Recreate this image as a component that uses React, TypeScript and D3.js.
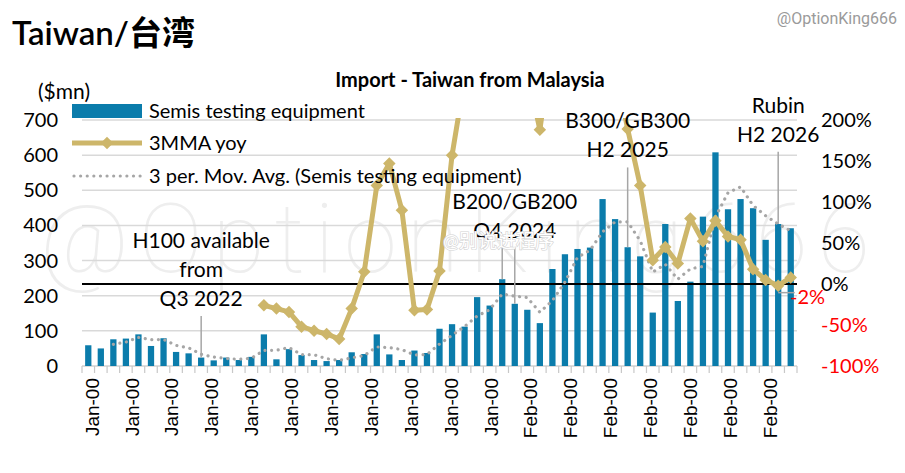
import React from "react";
import * as d3 from "d3";

// Monthly imports of semiconductor testing equipment, Taiwan from Malaysia ($mn)
const semisTesting = [
  59, 50, 76, 78, 90, 57, 79, 40, 36, 24, 16, 24, 17, 26, 90, 19, 48, 31, 17, 14,
  17, 39, 34, 90, 33, 17, 44, 37, 106, 119, 112, 196, 172, 247, 177, 160, 122, 276, 318, 333,
  337, 475, 418, 338, 312, 152, 404, 185, 240, 425, 608, 446, 475, 449, 359, 404, 392,
];

// 3-month moving average, year on year (%); null where not yet available
const yoy3mma: (number | null)[] = [
  null, null, null, null, null, null, null, null, null, null, null, null, null, null,
  -26, -30, -34, -52, -57, -61, -67, -30, 15, 120, 147, 90, -32, -31, 16, 157,
  250, 590, 900, 790, 560, 260, 188, 296, 670, 840, 430, 340, 265, 189, 120, 29,
  45, 25, 80, 52, 77, 58, 54, 18, 5, -2, 8,
];

const xTickLabels = [
  "Jan-00", "Jan-00", "Jan-00", "Jan-00", "Jan-00", "Jan-00", "Jan-00", "Jan-00", "Jan-00",
  "Jan-00", "Jan-00", "Feb-00", "Feb-00", "Feb-00", "Feb-00", "Feb-00", "Feb-00", "Feb-00",
];
const leftTicks = [0, 100, 200, 300, 400, 500, 600, 700];
const rightTicks = [-100, -50, 0, 50, 100, 150, 200];

// Product milestones pointing at a month's bar
const milestones = [
  { lines: ["H100 available", "from", "Q3 2022"], at: [9], textAt: 9, top: 142 },
  { lines: ["B200/GB200", "Q4 2024"], at: [33, 34], textAt: 34, top: 336 },
  { lines: ["B300/GB300", "H2 2025"], at: [43], textAt: 43, top: 565 },
  { lines: ["Rubin", "H2 2026"], at: [55], textAt: 55, top: 610 },
];
const labelledPoint = { index: 55, value: -2 };

const W = 905;
const H = 473;
const P = { left: 82, right: 797, top: 120, bottom: 366 };
const BLUE = "#0b7cab";
const GOLD = "#cdb66a";
const GREY = "#a6a6a6";
const FONT = "Lato, 'Noto Sans CJK SC', sans-serif";

export default function App() {
  const idx = d3.range(semisTesting.length);
  const x = d3
    .scaleBand<number>()
    .domain(idx)
    .range([P.left, P.right])
    .paddingInner(0.5)
    .paddingOuter(0.25);
  const step = x.step();
  const cx = (i: number) => (x(i) as number) + x.bandwidth() / 2;
  const yL = d3.scaleLinear().domain([0, 700]).range([P.bottom, P.top]);
  const yR = d3.scaleLinear().domain([-100, 200]).range([P.bottom, P.top]);

  // Trailing 3-period moving average of the bars
  const movAvg = idx.map((i) =>
    i < 2 ? null : (d3.mean(semisTesting.slice(i - 2, i + 1)) as number)
  );

  const maLine = d3
    .line<number | null>()
    .defined((d) => d != null)
    .x((_, i) => cx(i))
    .y((d) => yL(d as number));
  const yoyLine = d3
    .line<number | null>()
    .defined((d) => d != null)
    .x((_, i) => cx(i))
    .y((d) => yR(d as number));

  const diamond = d3.symbol(d3.symbolSquare, 78)() as string;

  // Category-axis labels are spaced a little over three months apart
  const labelStep = 3.18;
  const labelX = (k: number) => cx(0) + (0.3 + k * labelStep) * step;

  const lineH = 29;

  return (
    <svg
      width={W}
      height={H}
      style={{ position: "absolute", left: 0, top: 0, display: "block", background: "#fff" }}
      fontFamily={FONT}
    >
      <defs>
        <clipPath id="plotClip">
          <rect x={P.left - 10} y={P.top - 2} width={P.right - P.left + 20} height={P.bottom - P.top + 20} />
        </clipPath>
      </defs>
      <rect width={W} height={H} fill="#fff" />

      {/* faint watermark */}
      <text
        x={40}
        y={272}
        fontSize={96}
        fontFamily="Roboto, sans-serif"
        fontWeight={100}
        fill="#eeeeee"
        textLength={830}
        lengthAdjust="spacing"
      >
        @OptionKing666
      </text>

      {/* gridlines */}
      {leftTicks.slice(1).map((t) => (
        <line key={t} x1={P.left} x2={P.right} y1={yL(t)} y2={yL(t)} stroke="#d9d9d9" strokeWidth={1.5} />
      ))}
      <line x1={P.left} x2={P.right} y1={P.bottom} y2={P.bottom} stroke="#d0d0d0" strokeWidth={1.5} />
      {d3.range(semisTesting.length + 1).map((i) => (
        <line
          key={i}
          x1={P.left + i * step}
          x2={P.left + i * step}
          y1={P.bottom}
          y2={P.bottom + 7}
          stroke="#c8c8c8"
          strokeWidth={1.2}
        />
      ))}

      {/* bars */}
      {semisTesting.map((v, i) => (
        <rect key={i} x={x(i)} y={yL(v)} width={x.bandwidth()} height={yL(0) - yL(v)} fill={BLUE} />
      ))}

      {/* 0% reference */}
      <line x1={P.left} x2={P.right} y1={yR(0)} y2={yR(0)} stroke="#000" strokeWidth={2} />

      {/* moving average */}
      <path
        d={maLine(movAvg) as string}
        fill="none"
        stroke={GREY}
        strokeWidth={3.2}
        strokeDasharray="0.01 6.6"
        strokeLinecap="round"
      />

      {/* milestone connectors */}
      {milestones.map((m) =>
        m.at.map((i) => (
          <line
            key={m.lines[0] + i}
            x1={cx(i)}
            x2={cx(i)}
            y1={yL(m.top)}
            y2={yL(semisTesting[i])}
            stroke={GREY}
            strokeWidth={1.5}
          />
        ))
      )}
      {/* leader to the latest yoy label */}
      <line
        x1={cx(labelledPoint.index)}
        x2={cx(labelledPoint.index + 1) + 4}
        y1={yR(labelledPoint.value) + 7}
        y2={yR(labelledPoint.value) + 7}
        stroke={GREY}
        strokeWidth={1.5}
      />

      {/* 3MMA yoy */}
      <g clipPath="url(#plotClip)">
        <path
          d={yoyLine(yoy3mma) as string}
          fill="none"
          stroke={GOLD}
          strokeWidth={5}
          strokeLinejoin="round"
        />
        {yoy3mma.map((v, i) =>
          v == null ? null : (
            <path
              key={i}
              d={diamond}
              transform={`translate(${cx(i)},${yR(v)}) rotate(45)`}
              fill={GOLD}
            />
          )
        )}
      </g>

      {/* milestone text */}
      {milestones.map((m) => {
        const base = yL(m.top) - 10;
        return m.lines.map((t, k) => (
          <text
            key={m.lines[0] + k}
            x={cx(m.textAt)}
            y={base - (m.lines.length - 1 - k) * lineH}
            textAnchor="middle"
            fontSize={21}
            fill="#000"
          >
            {t}
          </text>
        ));
      })}

      {/* weibo mark */}
      <text x={443} y={248} fontSize={19} fill="#fff" stroke="#d2d2d2" strokeWidth={1.2} paintOrder="stroke">
        @别说进程序
      </text>

      {/* left axis */}
      {leftTicks.map((t) => (
        <text key={t} x={58} y={yL(t) + 7} textAnchor="end" fontSize={20} fill="#000">
          {t}
        </text>
      ))}
      <text x={38} y={99} fontSize={21} fill="#000">($mn)</text>

      {/* right axis */}
      {rightTicks.map((t) => (
        <text key={t} x={821} y={yR(t) + 7} fontSize={20} fill={t < 0 ? "#ff0000" : "#000"}>
          {`${t}%`}
        </text>
      ))}
      <text x={790} y={yR(labelledPoint.value) + 18} fontSize={20} fill="#ff0000">
        {`${labelledPoint.value}%`}
      </text>

      {/* category labels */}
      {xTickLabels.map((t, k) => (
        <text
          key={k}
          transform={`translate(${labelX(k)},${P.bottom + 12}) rotate(-90)`}
          textAnchor="end"
          dy="0.35em"
          fontSize={19}
          fontFamily="'Liberation Sans', Arial, sans-serif"
          fill="#000"
        >
          {t}
        </text>
      ))}

      {/* legend */}
      <rect x={72} y={104} width={70} height={14} fill={BLUE} />
      <text x={149} y={118} fontSize={20} fill="#000">Semis testing equipment</text>
      <line x1={72} x2={142} y1={143} y2={143} stroke={GOLD} strokeWidth={5} />
      <path d={diamond} transform="translate(107,143) rotate(45)" fill={GOLD} />
      <text x={149} y={150} fontSize={20} fill="#000">3MMA yoy</text>
      <line
        x1={74}
        x2={142}
        y1={176}
        y2={176}
        stroke={GREY}
        strokeWidth={3.2}
        strokeDasharray="0.01 6.6"
        strokeLinecap="round"
      />
      <text x={149} y={183} fontSize={20} fill="#000">3 per. Mov. Avg. (Semis testing equipment)</text>

      {/* titles */}
      <text x={470} y={87} textAnchor="middle" fontSize={20} fontWeight={700} fill="#000">
        Import - Taiwan from Malaysia
      </text>
      <text x={12} y={45} fontSize={33} fontWeight={600} fill="#000">
        Taiwan/台湾
      </text>
      <text x={897} y={24} textAnchor="end" fontSize={16} fontFamily="Roboto, sans-serif" fill="#9a9a9a">
        @OptionKing666
      </text>
    </svg>
  );
}
